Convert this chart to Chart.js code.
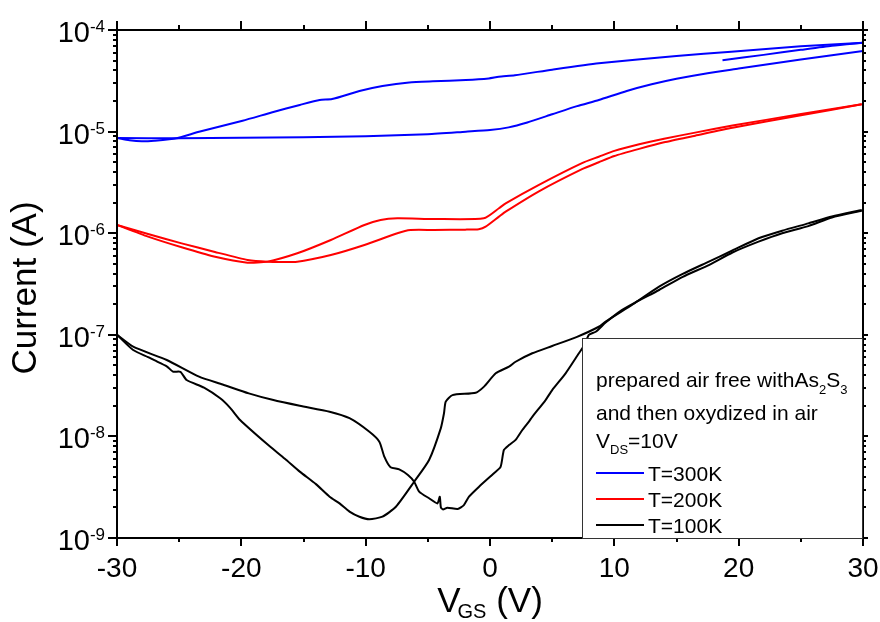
<!DOCTYPE html>
<html><head><meta charset="utf-8">
<script src="https://cdn.jsdelivr.net/npm/chart.js@4.4.1/dist/chart.umd.min.js"></script>
<style>html,body{margin:0;padding:0;background:#fff}#wrap{width:880px;height:622px}</style>
</head><body><div id="wrap"><canvas id="c" width="880" height="622"></canvas></div>
<script>
// ---- tick labels ----
const xTickValues = [-30, -20, -10, 0, 10, 20, 30];
const xTickLabels = ['-30', '-20', '-10', '0', '10', '20', '30'];
const xMinorValues = [-25, -15, -5, 5, 15, 25];
const yTickValues = [1e-9, 1e-8, 1e-7, 1e-6, 1e-5, 1e-4];
const yTickExponents = ['-9', '-8', '-7', '-6', '-5', '-4'];

// ---- legend texts ----
const legendLabels = ['T=300K', 'T=200K', 'T=100K'];

// ---- T = 300 K (blue) ----
const v300Short = [18.7, 22, 25, 27.5, 30];
const i300Short = [5.04e-5, 5.69e-5, 6.38e-5, 7.0e-5, 7.5e-5];
const v300Back = [30, 25, 19.4, 15, 8.75, 5, 2, 0.7, -0.1, -1.95, -4.6, -6.5, -8.65, -10.5, -12.7, -13.7, -15.3, -17.5, -19.9, -23.4, -25.2, -27, -28, -29, -30];
const i300Back = [7.5e-5, 6.92e-5, 6.12e-5, 5.56e-5, 4.70e-5, 4.07e-5, 3.59e-5, 3.47e-5, 3.34e-5, 3.22e-5, 3.13e-5, 3.05e-5, 2.81e-5, 2.51e-5, 2.09e-5, 2.05e-5, 1.83e-5, 1.55e-5, 1.28e-5, 9.98e-6, 8.59e-6, 8.13e-6, 8.02e-6, 8.22e-6, 8.65e-6];
const v300Fwd = [-30, -25, -20, -15, -10, -5, -1.95, 0, 1.5, 3, 5, 7, 8.75, 11, 13, 15, 17.5, 20, 25, 30];
const i300Fwd = [8.65e-6, 8.59e-6, 8.71e-6, 8.81e-6, 9.02e-6, 9.44e-6, 9.98e-6, 1.035e-5, 1.10e-5, 1.23e-5, 1.48e-5, 1.78e-5, 2.05e-5, 2.51e-5, 2.92e-5, 3.31e-5, 3.76e-5, 4.17e-5, 5.13e-5, 6.21e-5];

// ---- T = 200 K (red) ----
const v200Fwd = [-30, -27.5, -24.8, -22.2, -19.5, -17.9, -15.5, -12.8, -10.1, -7.45, -6.4, -4.5, -2, -0.9, -0.35, 0.72, 1.26, 3.9, 7.4, 8.75, 10, 12, 14, 16.5, 19.5, 24.9, 29.9];
const i200Fwd = [1.205e-6, 9.82e-7, 7.94e-7, 6.58e-7, 5.45e-7, 5.25e-7, 5.25e-7, 6.10e-7, 7.66e-7, 9.98e-7, 1.074e-6, 1.076e-6, 1.084e-6, 1.096e-6, 1.159e-6, 1.455e-6, 1.63e-6, 2.57e-6, 4.27e-6, 4.99e-6, 5.75e-6, 6.76e-6, 7.85e-6, 9.12e-6, 1.091e-5, 1.439e-5, 1.858e-5];
const v200Back = [29.9, 24.9, 19.5, 16.5, 14, 12, 10, 8.75, 7.4, 3.9, 1.26, 0.72, -0.5, -4.5, -7.45, -8.8, -10.1, -12.8, -15.5, -17.9, -19.5, -22.2, -24.8, -27.5, -30];
const i200Back = [1.858e-5, 1.479e-5, 1.148e-5, 9.77e-6, 8.51e-6, 7.50e-6, 6.46e-6, 5.66e-6, 4.90e-6, 2.98e-6, 1.97e-6, 1.76e-6, 1.40e-6, 1.38e-6, 1.40e-6, 1.35e-6, 1.205e-6, 8.57e-7, 6.34e-7, 5.25e-7, 5.13e-7, 5.89e-7, 7.26e-7, 9.25e-7, 1.205e-6];

// ---- T = 100 K (black) ----
const v100Fwd = [-30, -28.7, -27.5, -27, -26, -25.5, -24.9, -24.4, -23, -21.7, -20.9, -20.1, -18, -16.5, -15.3, -14, -12.9, -12.1, -11.3, -10.5, -9.7, -8.65, -7.57, -6.1, -4.9, -3.96, -3.7, -3.56, -3.02, -1.15, -0.48, 0.46, 1.53, 2.06, 3.4, 5, 7, 8.75, 9.3, 11.5, 13.6, 15.5, 17.6, 19.5, 21.6, 23.5, 25.6, 27.5, 29.9];
const i100Fwd = [1.0e-7, 7.08e-8, 6.03e-8, 5.62e-8, 4.90e-8, 4.34e-8, 4.32e-8, 3.59e-8, 3.02e-8, 2.37e-8, 1.91e-8, 1.45e-8, 8.55e-9, 6.03e-9, 4.50e-9, 3.39e-9, 2.55e-9, 2.19e-9, 1.82e-9, 1.62e-9, 1.53e-9, 1.62e-9, 2.03e-9, 3.58e-9, 5.86e-9, 1.20e-8, 1.69e-8, 2.20e-8, 2.55e-8, 2.69e-8, 3.09e-8, 4.18e-8, 4.86e-8, 5.43e-8, 6.58e-8, 7.76e-8, 9.55e-8, 1.20e-7, 1.35e-7, 2.0e-7, 2.98e-7, 3.98e-7, 5.25e-7, 6.76e-7, 8.91e-7, 1.059e-6, 1.25e-6, 1.46e-6, 1.69e-6];
const v100Back = [29.9, 27.5, 25.6, 23.5, 21.6, 19.5, 17.6, 15.5, 13.6, 11.7, 10.6, 9.3, 8.5, 7.95, 7.6, 7.15, 6.08, 5.0, 4.47, 3.4, 3.13, 2.6, 2.06, 1.53, 1.12, 0.85, 0.32, -0.88, -1.69, -2.1, -2.6, -3.43, -3.78, -3.95, -4.04, -4.23, -4.9, -5.7, -6.1, -6.6, -7.3, -8.0, -8.5, -8.9, -9.7, -11.3, -12.9, -15.3, -17.5, -19.4, -21.5, -23.4, -26, -28.7, -30];
const i100Back = [1.66e-6, 1.43e-6, 1.175e-6, 1.0e-6, 8.26e-7, 6.46e-7, 4.86e-7, 3.72e-7, 2.76e-7, 2.09e-7, 1.75e-7, 1.32e-7, 1.07e-7, 1.0e-7, 7.94e-8, 6.58e-8, 4.18e-8, 2.86e-8, 2.28e-8, 1.56e-8, 1.40e-8, 1.156e-8, 9.23e-9, 8.22e-9, 7.35e-9, 5.01e-9, 4.34e-9, 3.20e-9, 2.55e-9, 2.11e-9, 1.93e-9, 1.99e-9, 1.91e-9, 2.0e-9, 2.55e-9, 2.19e-9, 2.46e-9, 2.86e-9, 3.58e-9, 4.17e-9, 4.74e-9, 4.97e-9, 6.31e-9, 8.87e-9, 1.11e-8, 1.51e-8, 1.75e-8, 2.0e-8, 2.29e-8, 2.65e-8, 3.24e-8, 3.87e-8, 5.65e-8, 7.64e-8, 1.0e-7];

const BLUE = '#0000ff', RED = '#ff0000', BLACK = '#000000';
const FONT = '"Liberation Sans", Arial, Helvetica, sans-serif';

function pts(vs, is) { return vs.map((v, k) => ({ x: v, y: is[k] })); }
function ds(vs, is, color) {
  return { data: pts(vs, is), showLine: true, borderColor: color, backgroundColor: color,
           borderWidth: 2, pointRadius: 0, fill: false, tension: 0.2 };
}

const datasets = [
  ds(v300Short, i300Short, BLUE), ds(v300Back, i300Back, BLUE), ds(v300Fwd, i300Fwd, BLUE),
  ds(v200Fwd, i200Fwd, RED), ds(v200Back, i200Back, RED),
  ds(v100Fwd, i100Fwd, BLACK), ds(v100Back, i100Back, BLACK)
];

const axesPlugin = {
  id: 'axesPlugin',
  afterDatasetsDraw(chart) {
    const ctx = chart.ctx, xs = chart.scales.x, ys = chart.scales.y, a = chart.chartArea;
    ctx.save();
    ctx.strokeStyle = '#000';
    ctx.lineWidth = 2;
    ctx.lineCap = 'butt';
    ctx.strokeRect(a.left, a.top, a.right - a.left, a.bottom - a.top);
    ctx.beginPath();
    xTickValues.forEach(v => {
      const p = Math.round(xs.getPixelForValue(v));
      ctx.moveTo(p, a.bottom); ctx.lineTo(p, a.bottom + 8);
      ctx.moveTo(p, a.top); ctx.lineTo(p, a.top - 9);
    });
    xMinorValues.forEach(v => {
      const p = Math.round(xs.getPixelForValue(v));
      ctx.moveTo(p, a.bottom); ctx.lineTo(p, a.bottom + 4);
      ctx.moveTo(p, a.top); ctx.lineTo(p, a.top - 5);
    });
    yTickValues.forEach((dec, di) => {
      const p = Math.round(ys.getPixelForValue(dec));
      ctx.moveTo(a.left, p); ctx.lineTo(a.left - 9, p);
      ctx.moveTo(a.right, p); ctx.lineTo(a.right + 5, p);
      if (di < yTickValues.length - 1) {
        for (let k = 2; k <= 9; k++) {
          const q = Math.round(ys.getPixelForValue(dec * k));
          ctx.moveTo(a.left, q); ctx.lineTo(a.left - 4, q);
          ctx.moveTo(a.right, q); ctx.lineTo(a.right + 3, q);
        }
      }
    });
    ctx.stroke();

    ctx.fillStyle = '#000';
    ctx.font = '28px ' + FONT;
    ctx.textAlign = 'center';
    ctx.textBaseline = 'alphabetic';
    xTickValues.forEach((v, k) => {
      ctx.fillText(xTickLabels[k], xs.getPixelForValue(v), a.bottom + 39);
    });
    yTickValues.forEach((v, k) => {
      const p = ys.getPixelForValue(v);
      ctx.font = '17px ' + FONT;
      const sw = ctx.measureText(yTickExponents[k]).width;
      const right = a.left - 12;
      ctx.textAlign = 'left';
      ctx.fillText(yTickExponents[k], right - sw, p + 2);
      ctx.font = '29px ' + FONT;
      ctx.textAlign = 'right';
      ctx.fillText('10', right - sw, p + 12);
    });
    ctx.save();
    ctx.translate(36, 288);
    ctx.rotate(-Math.PI / 2);
    ctx.font = '35px ' + FONT;
    ctx.textAlign = 'center';
    ctx.fillText('Current (A)', 0, 0);
    ctx.restore();
    {
      const cx = (a.left + a.right) / 2;
      ctx.textAlign = 'left';
      ctx.font = '35px ' + FONT;
      const wV = ctx.measureText('V').width;
      const wP = ctx.measureText(' (V)').width;
      ctx.font = '20px ' + FONT;
      const wGS = ctx.measureText('GS').width;
      const total = wV - 3 + wGS + wP;
      let x0 = cx - total / 2;
      const base = 612;
      ctx.font = '35px ' + FONT;
      ctx.fillText('V', x0, base);
      ctx.font = '20px ' + FONT;
      ctx.fillText('GS', x0 + wV - 3, base + 6);
      ctx.font = '35px ' + FONT;
      ctx.fillText(' (V)', x0 + wV - 3 + wGS, base);
    }
    const bx = 582, by = 338, bw = 280, bh = a.bottom - 338;
    ctx.fillStyle = '#fff';
    ctx.fillRect(bx, by, bw, bh);
    ctx.strokeStyle = '#333';
    ctx.lineWidth = 1;
    ctx.strokeRect(bx + 0.5, by + 0.5, bw, bh);
    ctx.fillStyle = '#000';
    ctx.textAlign = 'left';
    const tx = 596;
    let x = tx;
    const seg1 = [['prepared air free withAs', 21, 0], ['2', 13, 7], ['S', 21, 0], ['3', 13, 7]];
    seg1.forEach(s => { ctx.font = s[1] + 'px ' + FONT; ctx.fillText(s[0], x, 387 + s[2]); x += ctx.measureText(s[0]).width; });
    ctx.font = '21px ' + FONT;
    ctx.fillText('and then oxydized in air', tx, 420);
    x = tx;
    const seg3 = [['V', 21, 0], ['DS', 13, 6], ['=10V', 21, 0]];
    seg3.forEach(s => { ctx.font = s[1] + 'px ' + FONT; ctx.fillText(s[0], x, 448 + s[2]); x += ctx.measureText(s[0]).width; });
    const colors = [BLUE, RED, BLACK];
    const rows = [473, 499, 525];
    legendLabels.forEach((lab, k) => {
      ctx.strokeStyle = colors[k];
      ctx.lineWidth = 2;
      ctx.beginPath(); ctx.moveTo(596, rows[k]); ctx.lineTo(644, rows[k]); ctx.stroke();
      ctx.fillStyle = '#000';
      ctx.font = '21px ' + FONT;
      ctx.fillText(lab, 648, rows[k] + 8);
    });
    ctx.restore();
  }
};

new Chart(document.getElementById('c').getContext('2d'), {
  type: 'scatter',
  data: { datasets },
  options: {
    responsive: false,
    animation: false,
    devicePixelRatio: 1,
    layout: { padding: { left: 117, right: 17, top: 30, bottom: 84 } },
    plugins: { legend: { display: false }, tooltip: { enabled: false } },
    scales: {
      x: { type: 'linear', min: -30, max: 30, display: false },
      y: { type: 'logarithmic', min: 1e-9, max: 1e-4, display: false }
    }
  },
  plugins: [axesPlugin]
});
</script>
</body></html>
